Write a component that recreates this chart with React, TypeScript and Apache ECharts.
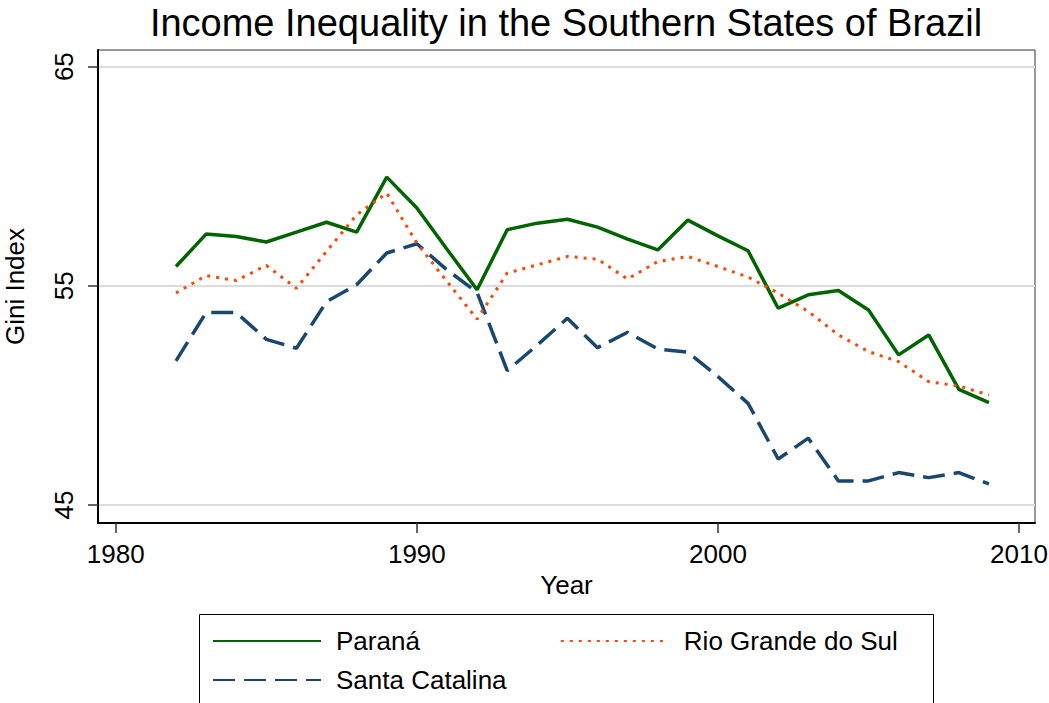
import React, { useEffect, useRef } from "react";
import * as echarts from "echarts";

const years = [1982, 1983, 1984, 1985, 1986, 1987, 1988, 1989, 1990, 1991, 1992, 1993, 1994, 1995, 1996, 1997, 1998, 1999, 2000, 2001, 2002, 2003, 2004, 2005, 2006, 2007, 2008, 2009];
const parana = [55.88, 57.36, 57.25, 57.0, 57.45, 57.9, 57.45, 59.96, 58.55, 56.67, 54.82, 57.56, 57.86, 58.04, 57.68, 57.13, 56.64, 58.0, 57.28, 56.6, 53.98, 54.59, 54.79, 53.9, 51.85, 52.76, 50.28, 49.67];
const rioGrande = [54.67, 55.47, 55.24, 55.93, 54.89, 56.57, 58.24, 59.23, 56.95, 55.2, 53.48, 55.58, 55.96, 56.34, 56.22, 55.31, 56.11, 56.34, 55.88, 55.4, 54.67, 53.83, 52.76, 52.0, 51.54, 50.63, 50.43, 50.02];
const santaCatalina = [51.58, 53.78, 53.78, 52.56, 52.15, 54.28, 55.05, 56.5, 56.92, 55.73, 54.7, 51.13, 52.3, 53.52, 52.18, 52.88, 52.12, 51.97, 50.86, 49.64, 47.1, 48.05, 46.1, 46.1, 46.48, 46.25, 46.48, 45.96];
const xTicks = [1980, 1990, 2000, 2010];
const yTicks = [45, 55, 65];
const seriesNames = ["Paraná", "Rio Grande do Sul", "Santa Catalina"];

const FONT = "'Liberation Sans', Arial, sans-serif";

export default function App() {
  const ref = useRef<HTMLDivElement>(null);
  useEffect(() => {
    if (!ref.current) return;
    const chart = echarts.init(ref.current, undefined, { renderer: "svg" });
    const pair = (vals: number[]) => years.map((y, i) => [y, vals[i]]);
    const legendCommon = {
      left: 212,
      padding: 0,
      itemWidth: 108,
      itemHeight: 14,
      selectedMode: false,
      itemStyle: { opacity: 0, borderWidth: 0 },
      textStyle: { fontSize: 26, color: "#000", fontFamily: FONT, padding: [0, 0, 0, 10] },
    };
    chart.setOption({
      animation: false,
      backgroundColor: "#fff",
      textStyle: { fontFamily: FONT },
      graphic: [
        {
          type: "text",
          x: 566,
          y: 23,
          style: {
            text: "Income Inequality in the Southern States of Brazil",
            font: `38px ${FONT}`,
            fill: "#000",
            textAlign: "center",
            textVerticalAlign: "middle",
          },
        },
        {
          type: "rect",
          shape: { x: 199.5, y: 614.5, width: 734, height: 100 },
          style: { fill: "none", stroke: "#000", lineWidth: 1 },
          silent: true,
        },
      ],
      grid: {
        left: 98,
        right: 14,
        top: 50,
        bottom: 180,
        show: true,
        borderColor: "#333",
        borderWidth: 1,
        outerBoundsMode: "none",
      },
      xAxis: {
        type: "value",
        min: 1979.41,
        max: 2010.53,
        name: "Year",
        nameLocation: "middle",
        nameGap: 46,
        nameTextStyle: { fontSize: 26, color: "#000", fontFamily: FONT },
        axisLine: { show: true, lineStyle: { color: "#000", width: 2 } },
        axisTick: { show: true, length: 10, customValues: xTicks, lineStyle: { color: "#333", width: 1.5 } },
        axisLabel: {
          customValues: xTicks,
          formatter: (v: number) => String(v),
          fontSize: 26,
          margin: 18,
          color: "#000",
          fontFamily: FONT,
        },
        splitLine: { show: false },
      },
      yAxis: {
        type: "value",
        min: 44.18,
        max: 65.76,
        name: "Gini Index",
        nameLocation: "middle",
        nameRotate: 90,
        nameGap: 70,
        nameTextStyle: { fontSize: 26, color: "#000", fontFamily: FONT },
        axisLine: { show: true, lineStyle: { color: "#000", width: 2 } },
        axisTick: { show: true, length: 10, customValues: yTicks, lineStyle: { color: "#333", width: 1.5 } },
        axisLabel: {
          customValues: yTicks,
          formatter: (v: number) => String(v),
          rotate: 90,
          fontSize: 26,
          margin: 21,
          color: "#000",
          fontFamily: FONT,
        },
        splitLine: { show: true, lineStyle: { color: "#dcdcdc", width: 2 } },
      },
      legend: [
        { ...legendCommon, data: [seriesNames[0], seriesNames[1]], top: 628, itemGap: 140 },
        { ...legendCommon, data: [seriesNames[2]], top: 667 },
      ],
      series: [
        {
          name: seriesNames[0],
          type: "line",
          data: pair(parana),
          symbol: "none",
          color: "#006400",
          lineStyle: { color: "#006400", width: 3.5 },
          z: 3,
        },
        {
          name: seriesNames[1],
          type: "line",
          data: pair(rioGrande),
          symbol: "none",
          color: "#ff4500",
          lineStyle: { color: "#ff4500", width: 3, type: [3, 6], cap: "butt" },
          z: 4,
        },
        {
          name: seriesNames[2],
          type: "line",
          data: pair(santaCatalina),
          symbol: "none",
          color: "#1a476f",
          lineStyle: { color: "#1a476f", width: 3.5, type: [22, 9] },
          z: 2,
        },
      ],
    });
    return () => chart.dispose();
  }, []);
  return (
    <div
      ref={ref}
      style={{ position: "fixed", left: 0, top: 0, width: 1049, height: 703, background: "#fff" }}
    />
  );
}
